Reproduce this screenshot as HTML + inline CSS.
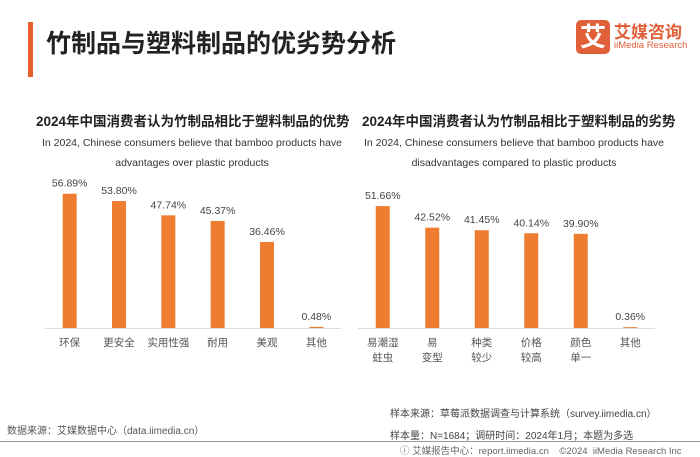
<!DOCTYPE html>
<html><head><meta charset="utf-8"><style>
body{margin:0;width:700px;height:455px;background:#fff;font-family:"Liberation Sans","Noto Sans CJK SC",sans-serif;overflow:hidden;position:relative}
.a{position:absolute;white-space:nowrap}
</style></head><body>
<div class="a" style="left:28px;top:22px;width:5px;height:55px;background:#e8612c"></div>
<div class="a" style="left:46px;top:24px;font-size:25px;font-weight:bold;color:#222">竹制品与塑料制品的优劣势分析</div>
<div class="a" style="left:576px;top:20px;width:34px;height:34px;background:#e0603a;border-radius:5px;color:#fff;font-size:26px;font-weight:bold;text-align:center;line-height:34px">艾</div>
<div class="a" style="left:614px;top:18px;font-size:17px;font-weight:bold;color:#e0603a">艾媒咨询</div>
<div class="a" style="left:614px;top:40px;font-size:9.5px;color:#e0603a">iiMedia Research</div>
<div class="a" style="left:36px;top:110px;font-size:13.5px;font-weight:bold;color:#222">2024年中国消费者认为竹制品相比于塑料制品的优势</div>
<div class="a" style="left:36px;top:133px;width:312px;white-space:normal;text-align:center;font-size:10.5px;line-height:20px;color:#333">In 2024, Chinese consumers believe that bamboo products have advantages over plastic products</div>
<div class="a" style="left:362px;top:110px;font-size:13.5px;font-weight:bold;color:#222">2024年中国消费者认为竹制品相比于塑料制品的劣势</div>
<div class="a" style="left:358px;top:133px;width:312px;white-space:normal;text-align:center;font-size:10.5px;line-height:20px;color:#333">In 2024, Chinese consumers believe that bamboo products have disadvantages compared to plastic products</div>
<svg class="a" style="left:0;top:0" width="700" height="455" id="chart"></svg>
<div class="a" style="left:7px;top:422px;font-size:10px;color:#555">数据来源：艾媒数据中心（data.iimedia.cn）</div>
<div class="a" style="left:390px;top:405px;font-size:10px;color:#444">样本来源：草莓派数据调查与计算系统（survey.iimedia.cn）</div>
<div class="a" style="left:390px;top:427px;font-size:10px;color:#444">样本量：N=1684；调研时间：2024年1月；本题为多选</div>
<div class="a" style="left:0;top:441px;width:700px;height:1px;background:#999"></div>
<div class="a" style="left:400px;top:443px;font-size:9.5px;color:#666">ⓘ 艾媒报告中心：report.iimedia.cn &nbsp;&nbsp; ©2024 &nbsp;iiMedia Research Inc</div>
<script>
const leftCats=[["环保"],["更安全"],["实用性强"],["耐用"],["美观"],["其他"]];
const leftVals=[56.89,53.80,47.74,45.37,36.46,0.48];
const rightCats=[["易潮湿","蛀虫"],["易","变型"],["种类","较少"],["价格","较高"],["颜色","单一"],["其他"]];
const rightVals=[51.66,42.52,41.45,40.14,39.90,0.36];
const svg=document.getElementById('chart');
const NS='http://www.w3.org/2000/svg';
const base=328, scale=2.36;
function y(v){return base-v*scale;}
function draw(cats,vals,x0,x1,id){
  const ax=document.createElementNS(NS,'line');
  
  
  ax.setAttribute('x1',x0);ax.setAttribute('x2',x1);ax.setAttribute('y1',base+0.5);ax.setAttribute('y2',base+0.5);
  ax.setAttribute('stroke','#ddd');svg.appendChild(ax);
  const step=(x1-x0)/cats.length;
  vals.forEach((v,i)=>{
    const cx=x0+step*(i+0.5);
    const r=document.createElementNS(NS,'rect');
    
    
    r.setAttribute('x',cx-7);r.setAttribute('width',14);r.setAttribute('y',y(v));r.setAttribute('height',base-y(v));
    r.setAttribute('fill','#ee7d31');svg.appendChild(r);
    const t=document.createElementNS(NS,'text');
    
    
    t.setAttribute('x',cx);t.setAttribute('y',y(v)-7);t.setAttribute('text-anchor','middle');
    t.setAttribute('font-size','10.5');t.setAttribute('fill','#444');t.textContent=v.toFixed(2)+'%';svg.appendChild(t);
    cats[i].forEach((c,j)=>{
      const l=document.createElementNS(NS,'text');
      
      
      l.setAttribute('x',cx);l.setAttribute('y',346+j*15);l.setAttribute('text-anchor','middle');
      l.setAttribute('font-size','10.5');l.setAttribute('fill','#555');l.textContent=c;svg.appendChild(l);
    });
  });
}
draw(leftCats,leftVals,45,341,'left');
draw(rightCats,rightVals,358,655,'right');
</script>
</body></html>
